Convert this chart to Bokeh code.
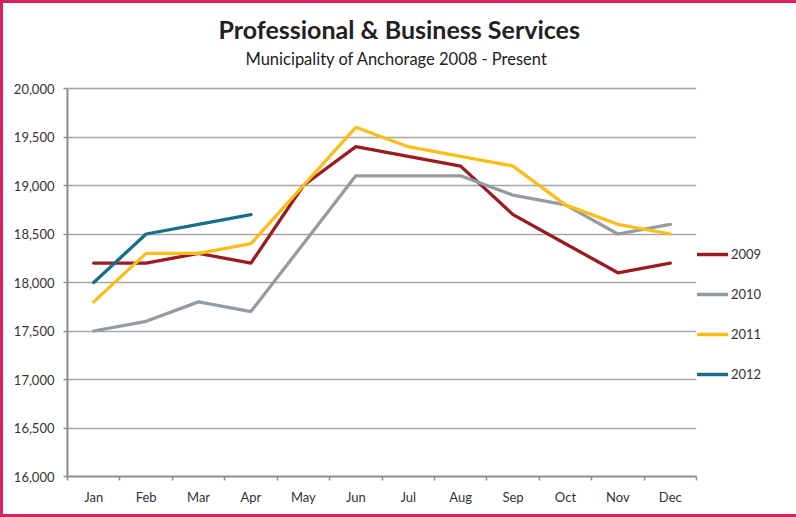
from bokeh.plotting import figure
from bokeh.models import Range1d, FixedTicker, NumeralTickFormatter, Label, Legend, LegendItem
from bokeh.embed import file_html
from bokeh.resources import INLINE

# ---- data ----
months = ["Jan", "Feb", "Mar", "Apr", "May", "Jun", "Jul", "Aug", "Sep", "Oct", "Nov", "Dec"]
y2009 = [18200, 18200, 18300, 18200, 19000, 19400, 19300, 19200, 18700, 18400, 18100, 18200]
y2010 = [17500, 17600, 17800, 17700, 18400, 19100, 19100, 19100, 18900, 18800, 18500, 18600]
y2011 = [17800, 18300, 18300, 18400, 19000, 19600, 19400, 19300, 19200, 18800, 18600, 18500]
y2012 = [18000, 18500, 18600, 18700]
series_names = ["2009", "2010", "2011", "2012"]
y_ticks = [16000, 16500, 17000, 17500, 18000, 18500, 19000, 19500, 20000]
title_text = "Professional & Business Services"
subtitle_text = "Municipality of Anchorage 2008 - Present"

colors = ["#9b1c20", "#949ba1", "#fbbd18", "#1b6e8b"]
FONT = "Lato"

xpos = list(range(1, len(months) + 1))

# layout: plotting area is 388 px tall for the value span; the frame is extended
# upward by 85 px to host the titles (axis line limited by bounds).
plot_px = 388
top_px = 85
y_lo, y_hi = y_ticks[0], y_ticks[-1]
y_top = y_hi + top_px * (y_hi - y_lo) / plot_px

p = figure(frame_width=629, frame_height=plot_px + top_px,
           x_range=Range1d(0.5, len(months) + 0.5),
           y_range=Range1d(y_lo, y_top),
           output_backend="svg", toolbar_location=None,
           min_border_left=64, min_border_right=97,
           min_border_top=0, min_border_bottom=38)
p.styles = {"border": "3px solid #d8215f"}
p.outline_line_color = None
p.background_fill_color = "white"
p.border_fill_color = "white"

# grid
p.xgrid.visible = False
p.ygrid.ticker = FixedTicker(ticks=y_ticks)
p.ygrid.grid_line_color = "#a6a6a6"
p.ygrid.grid_line_width = 1.5

# y axis
p.yaxis.ticker = FixedTicker(ticks=y_ticks)
p.yaxis.bounds = (y_lo, y_hi)
p.yaxis.formatter = NumeralTickFormatter(format="0,0")
p.yaxis.major_tick_out = 4
p.yaxis.major_tick_in = 0
p.yaxis.minor_tick_line_color = None
p.yaxis.major_label_standoff = 9

# x axis
p.xaxis.ticker = FixedTicker(ticks=xpos, minor_ticks=[v - 0.5 for v in xpos] + [xpos[-1] + 0.5])
p.xaxis.major_label_overrides = {v: m for v, m in zip(xpos, months)}
p.xaxis.major_tick_out = 0
p.xaxis.major_tick_in = 0
p.xaxis.minor_tick_out = 4
p.xaxis.minor_tick_in = 0
p.xaxis.minor_tick_line_color = "#8c8c8c"
p.xaxis.minor_tick_line_width = 1.5
p.xaxis.major_label_standoff = 8

for ax in (p.xaxis, p.yaxis):
    ax.axis_line_color = "#8c8c8c"
    ax.axis_line_width = 2
    ax.major_tick_line_color = "#8c8c8c"
    ax.major_tick_line_width = 1.5
    ax.major_label_text_font = FONT
    ax.major_label_text_font_size = "13px"
    ax.major_label_text_color = "#333333"

renderers = []
for name, ys, c in zip(series_names, [y2009, y2010, y2011, y2012], colors):
    r = p.line(xpos[:len(ys)], ys, line_color=c, line_width=3.3, line_join="round", line_cap="round")
    renderers.append(r)

legend = Legend(items=[LegendItem(label=n, renderers=[r]) for n, r in zip(series_names, renderers)],
                location=(1, 92), orientation="vertical", padding=0, margin=0, spacing=20,
                glyph_width=31, glyph_height=20, label_height=20, label_standoff=3,
                border_line_color=None, background_fill_alpha=0,
                label_text_font=FONT, label_text_font_size="13px", label_text_color="#333333")
p.add_layout(legend, "right")

p.add_layout(Label(x=151, y=448, x_units="screen", y_units="screen", text=title_text,
                   text_align="left", text_baseline="alphabetic", text_font=FONT,
                   text_font_style="bold", text_font_size="25px", text_color="#222222"))
p.add_layout(Label(x=178, y=418, x_units="screen", y_units="screen", text=subtitle_text,
                   text_align="left", text_baseline="alphabetic", text_font=FONT,
                   text_font_size="16.5px", text_color="#222222"))

open("out.html", "w").write(file_html(p, INLINE))
